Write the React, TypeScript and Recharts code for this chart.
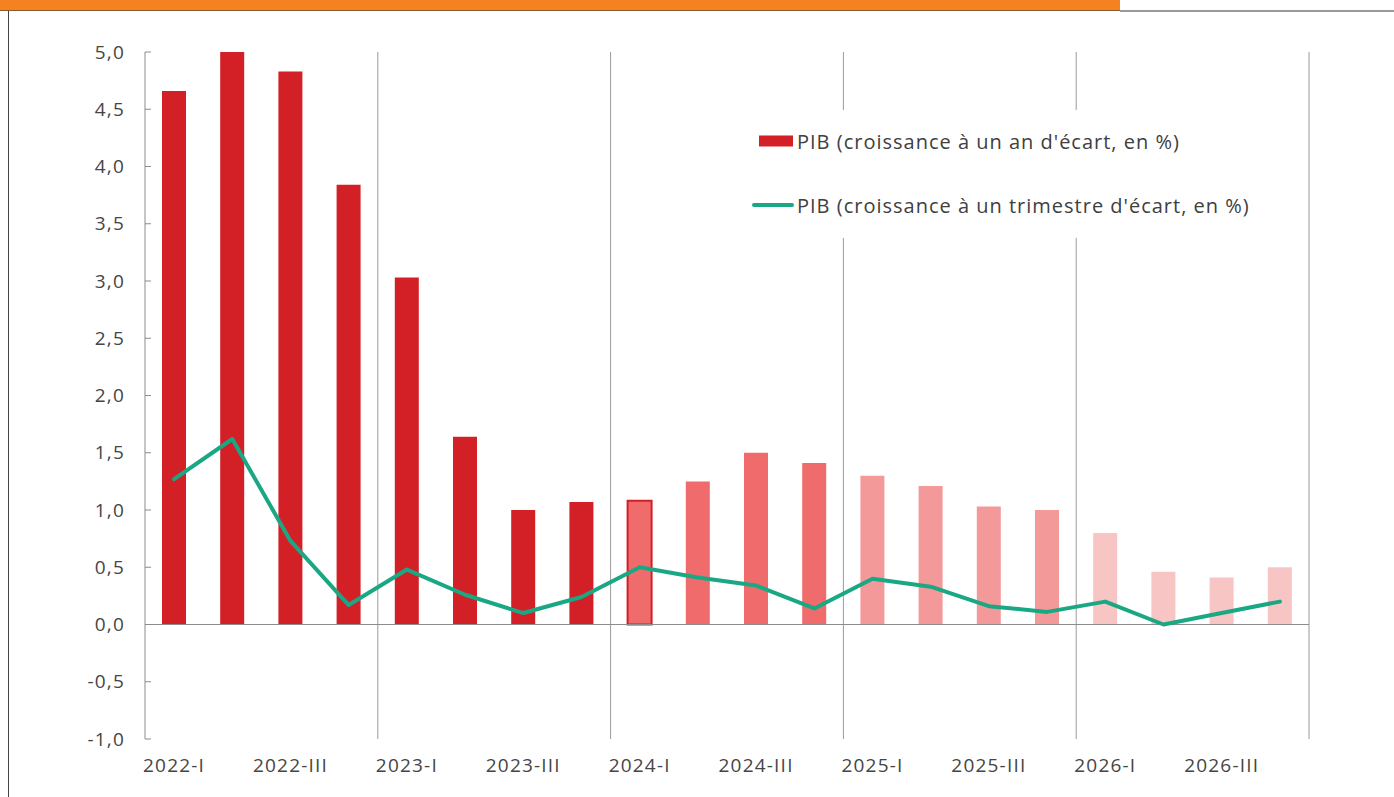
import React from "react";
import {
  ComposedChart,
  Bar,
  Line,
  XAxis,
  YAxis,
  Cell,
  ReferenceLine,
  Legend,
} from "recharts";

const quarters = [
  "2022-I", "2022-II", "2022-III", "2022-IV",
  "2023-I", "2023-II", "2023-III", "2023-IV",
  "2024-I", "2024-II", "2024-III", "2024-IV",
  "2025-I", "2025-II", "2025-III", "2025-IV",
  "2026-I", "2026-II", "2026-III", "2026-IV",
];

// PIB, croissance à un an d'écart (%)
const annualGrowth = [
  4.66, 5.0, 4.83, 3.84,
  3.03, 1.64, 1.0, 1.07,
  1.08, 1.25, 1.5, 1.41,
  1.3, 1.21, 1.03, 1.0,
  0.8, 0.46, 0.41, 0.5,
];

// PIB, croissance à un trimestre d'écart (%)
const quarterlyGrowth = [
  1.27, 1.62, 0.73, 0.17,
  0.48, 0.26, 0.1, 0.24,
  0.5, 0.41, 0.34, 0.14,
  0.4, 0.33, 0.16, 0.11,
  0.2, 0.0, 0.1, 0.2,
];

const yTicks = [-1, -0.5, 0, 0.5, 1, 1.5, 2, 2.5, 3, 3.5, 4, 4.5, 5];
// first quarter of each new year: separator drawn at the start of its band
const yearStarts = ["2023-I", "2024-I", "2025-I", "2026-I"];

const FONT = "'Open Sans', sans-serif";
const RED = "#d32027";
const GREEN = "#1aa784";
const AXIS = "#8c8c8c";
const TICK = { fill: "#454545", fontSize: 19, fontFamily: FONT, letterSpacing: 1.2 };

const yearColor: Record<string, string> = {
  "2022": RED,
  "2023": RED,
  "2024": "#f06c6c",
  "2025": "#f49999",
  "2026": "#f8c5c5",
};
const outlined = "2024-I";

const data = quarters.map((q, i) => ({
  q,
  annual: annualGrowth[i],
  quarterly: quarterlyGrowth[i],
}));

const fmt = (v: number) => v.toFixed(1).replace(".", ",");

function LegendBox(props: any) {
  const items = props.payload || [];
  return (
    <div
      style={{
        background: "#fff",
        width: 512,
        height: 128,
        fontFamily: FONT,
        fontSize: 20,
        letterSpacing: 1,
        color: "#404040",
        paddingTop: 16,
        boxSizing: "border-box",
      }}
    >
      {items.map((it: any) => (
        <div
          key={it.value}
          style={{ display: "flex", alignItems: "center", height: 30, marginBottom: 34 }}
        >
          <svg width={46} height={14} style={{ flex: "none" }}>
            {it.type === "line" ? (
              <line x1={4} y1={7} x2={42} y2={7} stroke={it.color} strokeWidth={4} strokeLinecap="round" />
            ) : (
              <rect x={9} y={1.5} width={34} height={11} fill={it.color} />
            )}
          </svg>
          <span style={{ marginLeft: 1, whiteSpace: "nowrap" }}>{it.value}</span>
        </div>
      ))}
    </div>
  );
}

export default function App() {
  return (
    <div style={{ position: "absolute", left: 0, top: 0, width: 1394, height: 797, background: "#fff" }}>
      <div style={{ position: "absolute", left: 0, top: 0, width: 1120, height: 10, background: "#f58220", borderBottom: "1px solid #8a5a30" }} />
      <div style={{ position: "absolute", left: 1120, top: 10, width: 274, height: 1.5, background: "#999" }} />
      <div style={{ position: "absolute", left: 8, top: 11, width: 1, height: 786, background: "#444" }} />
      <div style={{ position: "absolute", left: 0, top: 0 }}>
        <ComposedChart
          width={1394}
          height={797}
          data={data}
          margin={{ top: 52, right: 85, bottom: 0, left: 0 }}
          barCategoryGap={0}
        >
          <XAxis
            dataKey="q"
            axisLine={false}
            tickLine={false}
            interval={1}
            height={58}
            tickMargin={14}
            tick={TICK}
          />
          <YAxis
            domain={[-1, 5]}
            ticks={yTicks}
            interval={0}
            width={145}
            tickFormatter={fmt}
            axisLine={{ stroke: AXIS }}
            tickLine={{ stroke: AXIS }}
            tickSize={-6}
            tickMargin={26}
            tick={TICK}
          />
          {yearStarts.map((q) => (
            <ReferenceLine key={q} x={q} position="start" stroke="#9a9a9a" strokeWidth={1} />
          ))}
          <ReferenceLine x={quarters[quarters.length - 1]} position="end" stroke="#9a9a9a" strokeWidth={1} />
          <Bar
            dataKey="annual"
            name="PIB (croissance à un an d'écart, en %)"
            fill={RED}
            barSize={24}
            isAnimationActive={false}
          >
            {data.map((d) => (
              <Cell
                key={d.q}
                fill={yearColor[d.q.slice(0, 4)]}
                stroke={d.q === outlined ? RED : "none"}
                strokeWidth={d.q === outlined ? 2 : 0}
              />
            ))}
          </Bar>
          <ReferenceLine y={0} stroke={AXIS} strokeWidth={1.2} />
          <Line
            type="linear"
            dataKey="quarterly"
            name="PIB (croissance à un trimestre d'écart, en %)"
            stroke={GREEN}
            strokeWidth={4}
            strokeLinecap="round"
            strokeLinejoin="round"
            dot={false}
            activeDot={false}
            isAnimationActive={false}
          />
          <Legend
            layout="vertical"
            align="center"
            verticalAlign="middle"
            content={<LegendBox />}
            wrapperStyle={{ left: 750, top: 110, width: 512, height: 128 }}
          />
        </ComposedChart>
      </div>
    </div>
  );
}
